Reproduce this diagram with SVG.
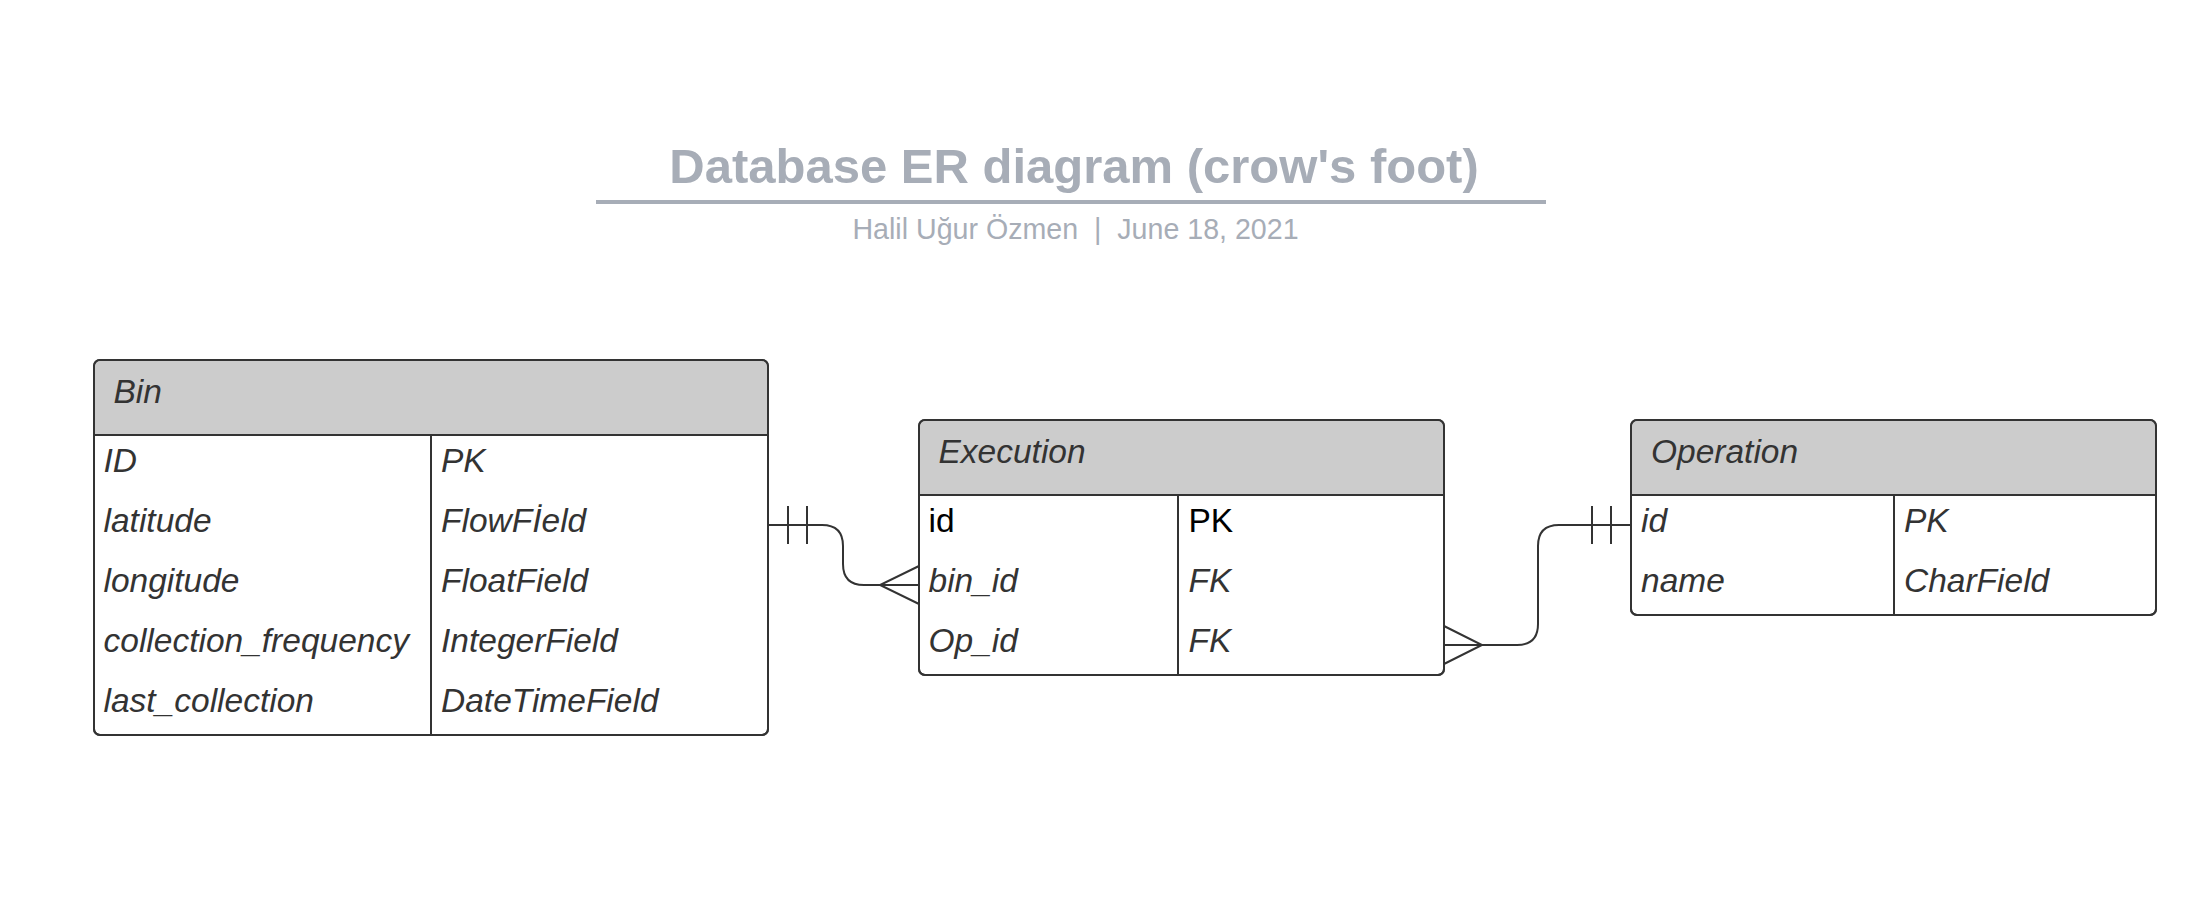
<svg xmlns="http://www.w3.org/2000/svg" width="2194" height="904" viewBox="0 0 2194 904">
<style>
.title{font-family:"Liberation Sans",Arial,sans-serif;font-weight:bold;font-size:49px;fill:#a7adb7}
.sub{font-family:"Liberation Sans",Arial,sans-serif;font-size:28.6px;fill:#a7adb7}
.box{fill:#ffffff;stroke:#333333;stroke-width:2}
.hdr{fill:#cccccc;stroke:none}
.ln{stroke:#333333;stroke-width:2;fill:none}
.t{font-family:"Liberation Sans",Arial,sans-serif;font-size:33.5px;font-style:italic;fill:#333333}
.tn{font-family:"Liberation Sans",Arial,sans-serif;font-size:33.5px;fill:#000000}
</style>
<rect width="2194" height="904" fill="#ffffff"/>
<g id="title">
<text class="title" x="1074" y="183" text-anchor="middle">Database ER diagram (crow's foot)</text>
<line x1="596" y1="202" x2="1546" y2="202" stroke="#a7adb7" stroke-width="4"/>
<text class="sub" x="1075.5" y="239" text-anchor="middle">Halil Uğur Özmen&#160;&#160;|&#160;&#160;June 18, 2021</text>
</g>
<g id="bin">
<rect class="box" x="94" y="360" width="674" height="375" rx="6"/>
<path class="hdr" d="M95,435 V366 a5,5 0 0 1 5,-5 H762 a5,5 0 0 1 5,5 V435 Z"/>
<rect x="94" y="360" width="674" height="375" rx="6" class="ln"/>
<line class="ln" x1="94" y1="435" x2="768" y2="435"/>
<line class="ln" x1="431" y1="435" x2="431" y2="735"/>
<text class="t" x="113.5" y="403">Bin</text>
<text class="t" x="103.5" y="472">ID</text>
<text class="t" x="103.5" y="532">latitude</text>
<text class="t" x="103.5" y="592">longitude</text>
<text class="t" x="103.5" y="652">collection_frequency</text>
<text class="t" x="103.5" y="712">last_collection</text>
<text class="t" x="441" y="472">PK</text>
<text class="t" x="441" y="532">FlowFİeld</text>
<text class="t" x="441" y="592">FloatField</text>
<text class="t" x="441" y="652">IntegerField</text>
<text class="t" x="441" y="712">DateTimeField</text>
</g>
<g id="execution">
<rect class="box" x="919" y="420" width="525" height="255" rx="6"/>
<path class="hdr" d="M920,495 V426 a5,5 0 0 1 5,-5 H1438 a5,5 0 0 1 5,5 V495 Z"/>
<rect x="919" y="420" width="525" height="255" rx="6" class="ln"/>
<line class="ln" x1="919" y1="495" x2="1444" y2="495"/>
<line class="ln" x1="1178" y1="495" x2="1178" y2="675"/>
<text class="t" x="938.5" y="463">Execution</text>
<text class="tn" x="928.5" y="532">id</text>
<text class="t" x="928.5" y="592">bin_id</text>
<text class="t" x="928.5" y="652">Op_id</text>
<text class="tn" x="1188.5" y="532">PK</text>
<text class="t" x="1188.5" y="592">FK</text>
<text class="t" x="1188.5" y="652">FK</text>
</g>
<g id="operation">
<rect class="box" x="1631" y="420" width="525" height="195" rx="6"/>
<path class="hdr" d="M1632,495 V426 a5,5 0 0 1 5,-5 H2150 a5,5 0 0 1 5,5 V495 Z"/>
<rect x="1631" y="420" width="525" height="195" rx="6" class="ln"/>
<line class="ln" x1="1631" y1="495" x2="2156" y2="495"/>
<line class="ln" x1="1894" y1="495" x2="1894" y2="615"/>
<text class="t" x="1651" y="463">Operation</text>
<text class="t" x="1641" y="532">id</text>
<text class="t" x="1641" y="592">name</text>
<text class="t" x="1904" y="532">PK</text>
<text class="t" x="1904" y="592">CharField</text>
</g>
<g id="connectors">
<path class="ln" d="M768,525 H822 Q843,525 843,546 V564 Q843,585 864,585 H919"/>
<line class="ln" x1="788" y1="506" x2="788" y2="544"/>
<line class="ln" x1="807" y1="506" x2="807" y2="544"/>
<path class="ln" d="M919,566 L880,585 L919,604"/>
<path class="ln" d="M1444,645 H1517 Q1538,645 1538,624 V546 Q1538,525 1559,525 H1631"/>
<line class="ln" x1="1592" y1="506" x2="1592" y2="544"/>
<line class="ln" x1="1611" y1="506" x2="1611" y2="544"/>
<path class="ln" d="M1444,626 L1482,645 L1444,664"/>
</g>
</svg>
